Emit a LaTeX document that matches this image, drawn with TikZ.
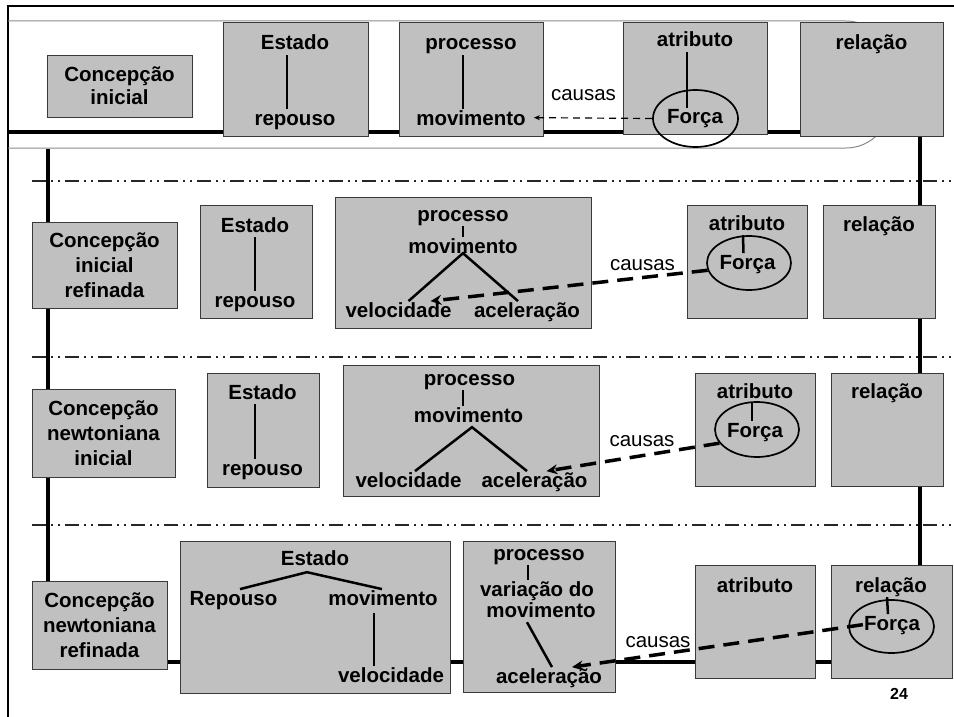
\documentclass[tikz,border=0pt]{standalone}
\usepackage{fontspec}
\setmainfont{Liberation Sans}
\usetikzlibrary{shapes.geometric,arrows.meta}
\definecolor{boxgray}{HTML}{C0C0C0}
\definecolor{boxline}{HTML}{3A3A3A}
\definecolor{bandgray}{HTML}{8A8A8A}
\pgfdeclarelayer{bg}
\pgfsetlayers{bg,main}
\begin{document}
\begin{tikzpicture}[x=1pt,y=-1pt,
  box/.style={draw=boxline, fill=boxgray, line width=0.9pt, inner sep=0pt},
  cbox/.style={box, align=center, font=\bfseries\fontsize{20.5}{25}\selectfont},
  lbl/.style={font=\bfseries\fontsize{20.5}{24}\selectfont, text height=14.7pt, text depth=4pt, inner sep=1pt, anchor=base},
  cau/.style={font=\fontsize{20.5}{24}\selectfont, inner sep=1pt, anchor=base},
  forca/.style={draw=black, ellipse, line width=1.7pt, inner sep=0pt},
  link/.style={line width=2.5pt},
  thickl/.style={line width=4pt},
  sep/.style={line width=1.3pt, draw=black!85, dash pattern=on 14pt off 5pt on 2pt off 5pt on 2pt off 5pt},
  dashthin/.style={line width=1.2pt, dash pattern=on 7pt off 5pt, -{Stealth[length=6pt,width=5pt]}},
  dashthick/.style={line width=3.5pt, dash pattern=on 16pt off 9pt, -{Stealth[length=11pt,width=10pt]}},
  band/.style={draw=bandgray, line width=1pt}
]
\useasboundingbox (0,0) rectangle (954,717);
% outer frame
\draw[line width=2pt] (8,717) -- (8,6) -- (954,6);
% band of the first row
\draw[band, rounded corners=44pt] (8,21) -- (890,21) -- (890,148) -- (8,148);
% separators
\draw[sep] (32,181) -- (954,181);
\draw[sep] (32,357) -- (954,357);
\draw[sep] (32,525) -- (954,525);

% ---------- Row 1 ----------
\node[cbox, font=\bfseries\fontsize{20.5}{23}\selectfont, minimum width=145pt, minimum height=62pt] (c1) at (119.5,86) {Concepção\\inicial};
\node[box, minimum width=145pt, minimum height=114pt] (e1) at (295.5,79) {};
\node[box, minimum width=144pt, minimum height=114pt] (p1) at (471,79) {};
\node[box, minimum width=144pt, minimum height=112pt] (a1) at (695,78) {};
\node[box, minimum width=143pt, minimum height=114pt] (r1) at (871.5,79) {};

\node[lbl] (e1t) at (295,50) {Estado};
\node[lbl] (e1b) at (295,125) {repouso};
\draw[link] ([xshift=-8pt]e1t.south) -- ([xshift=-8pt]e1b.north);
\node[lbl] (p1t) at (471,50) {processo};
\node[lbl] (p1b) at (471,125) {movimento};
\draw[link] ([xshift=-8pt]p1t.south) -- ([xshift=-8pt]p1b.north);
\node[lbl] (a1t) at (695,47) {atributo};
\node[lbl] (f1) at (695,124) {Força};
\node[forca, minimum width=85pt, minimum height=57pt] (f1e) at (695.5,118.5) {};
\draw[link] ([xshift=-8pt]a1t.south) -- ([xshift=-8pt]f1.north);
\node[lbl] (r1t) at (871.5,50) {relação};
\node[cau] (k1) at (583.5,100) {causas};
\draw[dashthin] (f1e.west) -- ([xshift=7pt,yshift=2pt]p1b.east);

% ---------- Row 2 ----------
\node[cbox, minimum width=145pt, minimum height=86pt] (c2) at (104.5,265) {Concepção\\inicial\\refinada};
\node[box, minimum width=112pt, minimum height=113pt] (e2) at (256,261.5) {};
\node[box, minimum width=256pt, minimum height=131pt] (p2) at (463,262.5) {};
\node[box, minimum width=120pt, minimum height=113pt] (a2) at (747,261.5) {};
\node[box, minimum width=112pt, minimum height=113pt] (r2) at (879,261.5) {};

\node[lbl] (e2t) at (255,232) {Estado};
\node[lbl] (e2b) at (255,307) {repouso};
\draw[link] (e2t.south) -- (e2b.north);
\node[lbl] (p2t) at (463,221) {processo};
\node[lbl] (m2) at (463,253) {movimento};
\draw[link] (p2t.south) -- (m2.north);
\node[lbl] (v2) at (398.5,317) {velocidade};
\node[lbl] (ac2) at (527,317) {aceleração};
\draw[link] ([xshift=10pt]v2.north) -- ([yshift=5pt]m2.south) -- ([xshift=-9pt]ac2.north);
\node[lbl] (a2t) at (747,230) {atributo};
\node[lbl] (f2) at (747.5,269) {Força};
\node[forca, minimum width=84pt, minimum height=54pt] (f2e) at (749,263) {};
\draw[link] ([xshift=-4pt]a2t.south) -- ([xshift=-4pt]f2.north);
\node[lbl] (r2t) at (879,231) {relação};
\node[cau] (k2) at (642.5,270) {causas};
\draw[dashthick] (f2e.190) -- ([xshift=32pt]v2.north);

% ---------- Row 3 ----------
\node[cbox, minimum width=143pt, minimum height=88pt] (c3) at (103.5,433) {Concepção\\newtoniana\\inicial};
\node[box, minimum width=112pt, minimum height=114pt] (e3) at (263,430) {};
\node[box, minimum width=256pt, minimum height=131pt] (p3) at (471,430.5) {};
\node[box, minimum width=120pt, minimum height=113pt] (a3) at (755,429.5) {};
\node[box, minimum width=112pt, minimum height=113pt] (r3) at (887,429.5) {};

\node[lbl] (e3t) at (262.5,399) {Estado};
\node[lbl] (e3b) at (262.5,475) {repouso};
\draw[link] ([xshift=-7.5pt]e3t.south) -- ([xshift=-7.5pt]e3b.north);
\node[lbl] (p3t) at (469.5,385) {processo};
\node[lbl] (m3) at (468.5,422) {movimento};
\draw[link] ([xshift=-6.5pt]p3t.south) -- ([xshift=-5.5pt]m3.north);
\node[lbl] (v3) at (408.5,487) {velocidade};
\node[lbl] (ac3) at (534.5,487) {aceleração};
\draw[link] ([xshift=6.5pt]v3.north) -- ([xshift=3.5pt]m3.south) -- ([xshift=-7.5pt]ac3.north);
\node[lbl] (a3t) at (755,398) {atributo};
\node[lbl] (f3) at (755,437) {Força};
\node[forca, minimum width=84pt, minimum height=55pt] (f3e) at (757,429.5) {};
\draw[link] ([xshift=-3pt]a3t.south) -- ([xshift=-3pt]f3.north);
\node[lbl] (r3t) at (887,398) {relação};
\node[cau] (k3) at (642,446) {causas};
\draw[dashthick] (f3e.200) -- ([xshift=12pt]ac3.north);

% ---------- Row 4 ----------
\node[cbox, minimum width=135pt, minimum height=88pt] (c4) at (99.5,625) {Concepção\\newtoniana\\refinada};
\node[box, minimum width=270pt, minimum height=152pt] (e4) at (315,617) {};
\node[box, minimum width=152pt, minimum height=151pt] (p4) at (539,616.5) {};
\node[box, minimum width=120pt, minimum height=113pt] (a4) at (755,621.5) {};
\node[box, minimum width=121pt, minimum height=113pt] (r4) at (891.5,621.5) {};

\node[lbl] (e4t) at (315,565) {Estado};
\node[lbl] (rp4) at (233.5,605) {Repouso};
\node[lbl] (mv4) at (383,605) {movimento};
\draw[link] ([xshift=6.5pt]rp4.north) -- ([xshift=-8pt,yshift=-2pt]e4t.south) -- ([xshift=-1pt]mv4.north);
\node[lbl] (v4) at (391,682) {velocidade};
\draw[link] ([xshift=-9pt,yshift=-3pt]mv4.south) -- ([xshift=-17pt]v4.north);
\node[lbl] (p4t) at (539,560) {processo};
\node[lbl] (vd4) at (537,596) {variação do};
\node[lbl] (mb4) at (541,617) {movimento};
\draw[link] ([xshift=-11pt]p4t.south) -- ([xshift=-11pt]p4t.south |- vd4.north);
\node[lbl] (ac4) at (549,683) {aceleração};
\draw[link] ([xshift=-14pt]mb4.south) -- ([xshift=3pt]ac4.north);
\node[lbl] (a4t) at (755,592) {atributo};
\node[lbl] (r4t) at (891,592) {relação};
\node[lbl] (f4) at (892,630) {Força};
\node[forca, minimum width=85pt, minimum height=53pt] (f4e) at (891.5,626.5) {};
\draw[link] ([xshift=-4pt]r4t.south) -- ([xshift=-4pt]f4.north);
\node[cau] (k4) at (658,647) {causas};
\draw[dashthick] (f4.west) -- ([xshift=23pt]ac4.north);

\node[font=\bfseries\fontsize{16}{18}\selectfont, anchor=base, inner sep=0pt] (pg) at (899,699) {24};

% ---------- thick frame lines behind the boxes ----------
\begin{pgfonlayer}{bg}
\draw[thickl] (8,132) -- (r1.west |- 0,132);
\draw[thickl] (48,149) -- (c4.north -| 48,0);
\draw[thickl] (c4.east |- 0,661.5) -- (r4.west |- 0,661.5);
\draw[thickl] (r1.south -| 919.5,0) -- (r4.north -| 919.5,0);
\end{pgfonlayer}
\end{tikzpicture}
\end{document}
